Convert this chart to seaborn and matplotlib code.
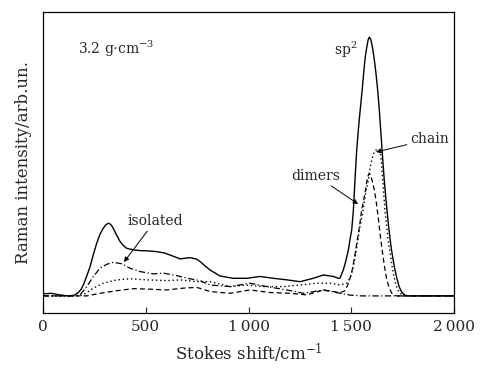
import numpy as np
import pandas as pd
import seaborn as sns
import matplotlib.pyplot as plt

# curves (x in cm^-1, y normalised to the sp2 peak)
total_x = [0, 40, 80, 120, 150, 170, 185, 196, 212, 229, 245, 261, 277, 293, 306, 318, 330, 342, 358,
           375, 390, 407, 440, 472, 510, 553, 590, 618, 667, 715, 748, 764, 790, 813, 861, 926, 991,
           1056, 1121, 1186, 1251, 1315, 1364, 1413, 1437, 1445, 1461, 1470, 1486, 1494, 1502, 1510,
           1518, 1526, 1534, 1541, 1552, 1560, 1567, 1575, 1582, 1588, 1595, 1603, 1611, 1620, 1629,
           1636, 1643, 1650, 1660, 1670, 1680, 1690, 1697, 1710, 1721, 1733, 1745, 1760, 1778, 1850, 2000]
total_y = [0.008, 0.01, 0.004, 0.0, 0.002, 0.012, 0.025, 0.042, 0.075, 0.113, 0.16, 0.203, 0.238, 0.261,
           0.275, 0.281, 0.276, 0.261, 0.235, 0.21, 0.195, 0.184, 0.178, 0.175, 0.174, 0.171, 0.166,
           0.158, 0.143, 0.148, 0.142, 0.133, 0.115, 0.1, 0.077, 0.068, 0.068, 0.075, 0.068, 0.062,
           0.055, 0.068, 0.081, 0.075, 0.068, 0.069, 0.1, 0.125, 0.178, 0.22, 0.255, 0.33, 0.45, 0.56,
           0.64, 0.7, 0.789, 0.86, 0.918, 0.96, 0.99, 1.0, 0.99, 0.96, 0.918, 0.86, 0.789, 0.72, 0.641,
           0.56, 0.45, 0.36, 0.28, 0.21, 0.17, 0.11, 0.07, 0.035, 0.015, 0.003, 0.0, 0.0, 0.0]

isolated_x = [0, 150, 180, 213, 245, 277, 310, 342, 383, 423, 472, 537, 586, 651, 715, 764, 813, 910,
              1007, 1089, 1186, 1267, 1364, 1445, 1494, 1550, 2000]
isolated_y = [0.0, 0.0, 0.004, 0.036, 0.075, 0.107, 0.122, 0.13, 0.124, 0.107, 0.094, 0.085, 0.088,
              0.078, 0.066, 0.059, 0.042, 0.036, 0.049, 0.036, 0.023, 0.01, 0.023, 0.01, 0.003, 0.0, 0.0]

chain_x = [0, 170, 196, 245, 293, 359, 423, 505, 602, 667, 748, 813, 910, 991, 1072, 1169, 1251, 1332,
           1397, 1445, 1478, 1495, 1510, 1525, 1539, 1550, 1559, 1570, 1583, 1595, 1606, 1616, 1628,
           1640, 1646, 1653, 1660, 1666, 1672, 1680, 1689, 1700, 1713, 1725, 1737, 1760, 2000]
chain_y = [0.0, 0.0, 0.004, 0.03, 0.049, 0.062, 0.066, 0.062, 0.059, 0.062, 0.055, 0.055, 0.036,
           0.042, 0.036, 0.036, 0.042, 0.049, 0.049, 0.042, 0.049, 0.07, 0.113, 0.18, 0.255, 0.3, 0.34,
           0.4, 0.448, 0.51, 0.545, 0.562, 0.566, 0.56, 0.52, 0.448, 0.37, 0.31, 0.27, 0.21, 0.165,
           0.105, 0.055, 0.025, 0.01, 0.0, 0.0]

dimers_x = [0, 213, 277, 359, 439, 521, 602, 683, 748, 813, 910, 1007, 1105, 1202, 1283, 1364, 1413,
            1445, 1470, 1486, 1502, 1518, 1530, 1540, 1550, 1560, 1567, 1575, 1582, 1588, 1595, 1603,
            1612, 1620, 1630, 1640, 1648, 1660, 1672, 1685, 1697, 1720, 2000]
dimers_y = [0.0, 0.0, 0.01, 0.02, 0.028, 0.026, 0.023, 0.03, 0.033, 0.017, 0.01, 0.023, 0.013, 0.01,
            0.004, 0.023, 0.017, 0.012, 0.02, 0.049, 0.09, 0.16, 0.22, 0.27, 0.33, 0.37, 0.4, 0.44,
            0.465, 0.474, 0.465, 0.44, 0.41, 0.37, 0.31, 0.24, 0.19, 0.12, 0.065, 0.03, 0.01, 0.0, 0.0]

xticks = [0, 500, 1000, 1500, 2000]
xtick_labels = ['0', '500', '1\u2009000', '1\u2009500', '2\u2009000']

sns.set_theme(style='ticks')
plt.rcParams['font.family'] = ['DejaVu Serif']
plt.rcParams['mathtext.fontset'] = 'dejavuserif'

fig = plt.figure(figsize=(4.8, 3.69), dpi=100)
ax = fig.add_axes([0.0896, 0.1518, 0.8564, 0.8157])

sns.lineplot(x=total_x, y=total_y, ax=ax, color='black', lw=1.0)
sns.lineplot(x=isolated_x, y=isolated_y, ax=ax, color='black', lw=0.9, linestyle=(0, (5, 2, 1, 2)))
sns.lineplot(x=chain_x, y=chain_y, ax=ax, color='black', lw=1.0, linestyle=(0, (1, 2)))
sns.lineplot(x=dimers_x, y=dimers_y, ax=ax, color='black', lw=0.9, linestyle=(0, (4, 2.5)))

ax.set_xlim(0, 2000)
ax.set_ylim(-0.066, 1.097)
ax.set_xticks(xticks)
ax.set_xticklabels(xtick_labels, fontsize=11)
ax.set_yticks([])
ax.tick_params(axis='x', direction='in', length=4, width=0.8, pad=5)
for s in ax.spines.values():
    s.set_linewidth(0.9)
    s.set_color('black')

ax.set_xlabel('Stokes shift/cm$^{-1}$', fontsize=12, labelpad=6)
ax.set_ylabel('Raman intensity/arb.un.', fontsize=12, labelpad=8)

ax.text(170, 0.955, '3.2 g$\\cdot$cm$^{-3}$', fontsize=10, va='center', ha='left')
ax.text(1475, 0.95, 'sp$^2$', fontsize=10, va='center', ha='center')

arrow = dict(arrowstyle='-|>', lw=0.7, color='black', mutation_scale=7, shrinkA=0, shrinkB=0)
ax.annotate('chain', xy=(1620, 0.556), xytext=(1880, 0.605), fontsize=10, ha='center', va='center',
            arrowprops=arrow)
ax.annotate('dimers', xy=(1533, 0.355), xytext=(1328, 0.465), fontsize=10, ha='center', va='center',
            arrowprops=arrow)
ax.annotate('isolated', xy=(394, 0.131), xytext=(545, 0.29), fontsize=10, ha='center', va='center',
            arrowprops=arrow)

fig.savefig('out.png', dpi=100)
